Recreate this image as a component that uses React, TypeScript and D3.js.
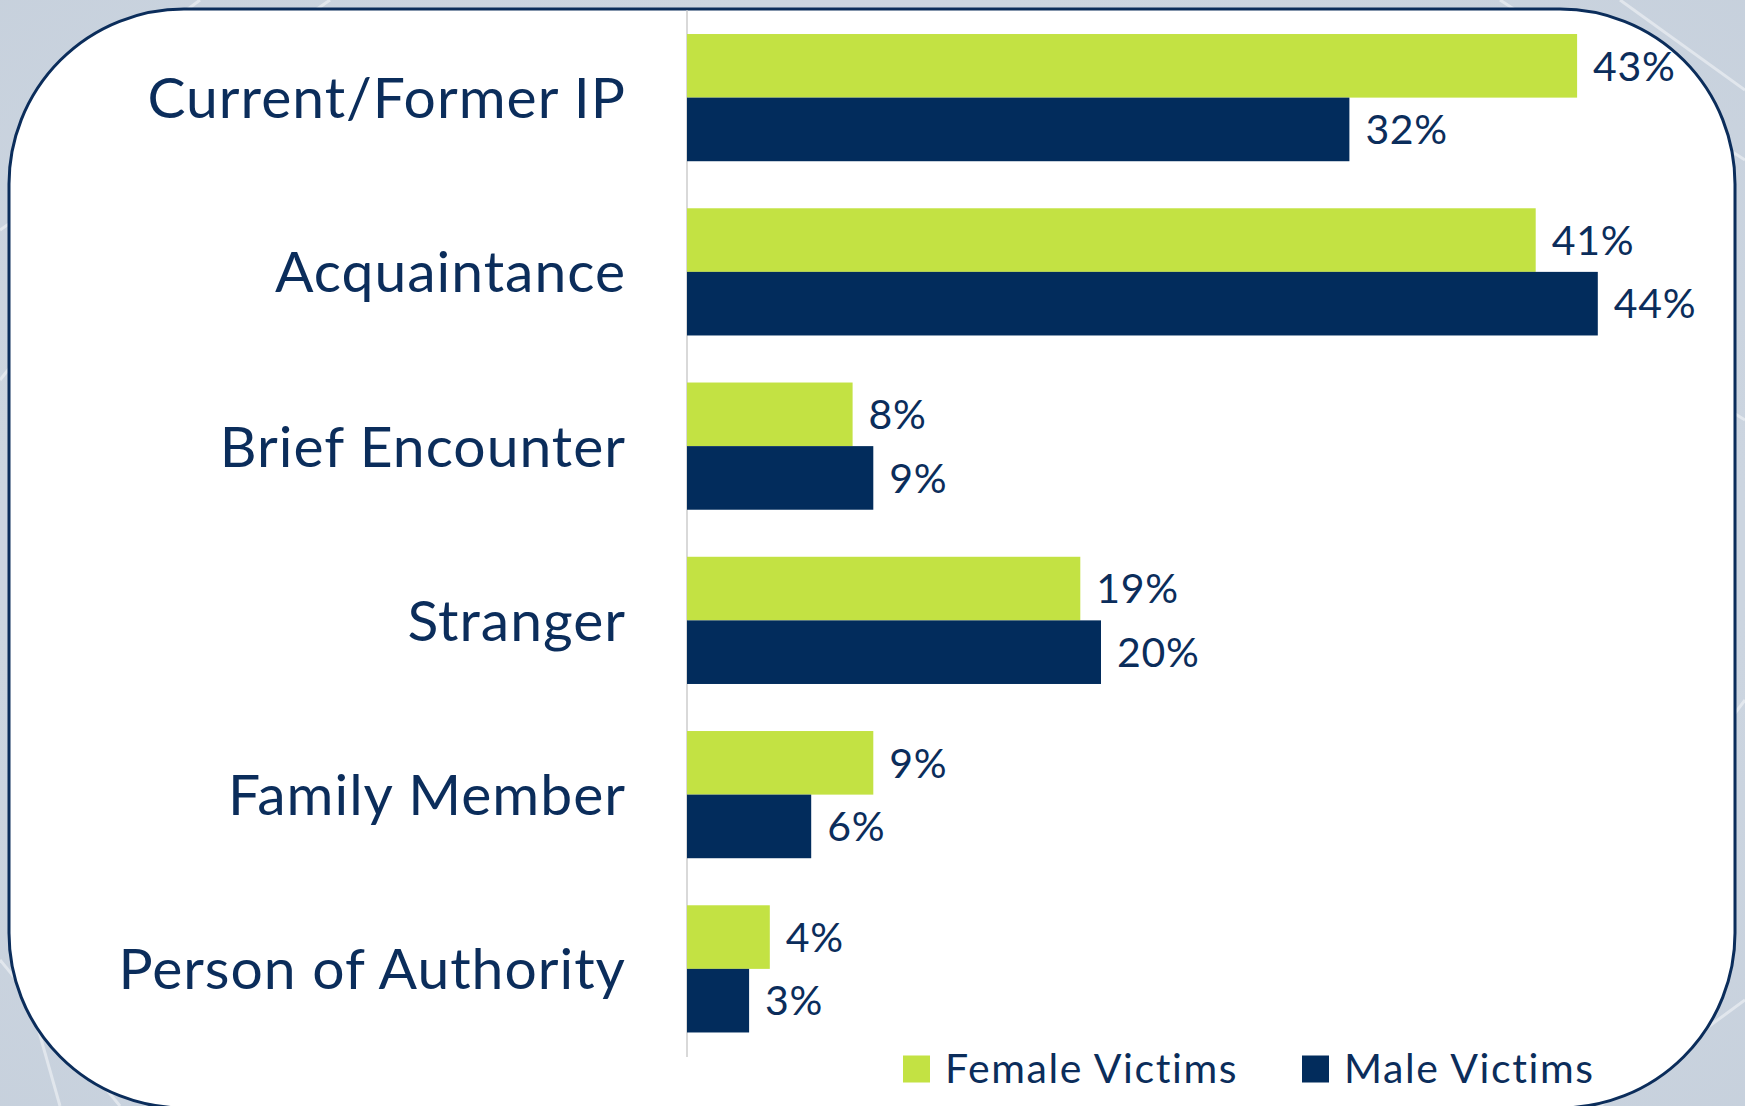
import React from "react";
import * as d3 from "d3";

const categories = [
  "Current/Former IP",
  "Acquaintance",
  "Brief Encounter",
  "Stranger",
  "Family Member",
  "Person of Authority",
];
const femaleValues = [43, 41, 8, 19, 9, 4];
const maleValues = [32, 44, 9, 20, 6, 3];
const seriesNames = ["Female Victims", "Male Victims"];

const W = 1745;
const H = 1106;
const GREEN = "#c3e243";
const NAVY = "#022c5c";
const TEXT = "#0b2d5b";
const FONT = "Lato, 'Open Sans', sans-serif";

const bgLines: [number, number, number, number][] = [
  [0, 230, 330, 0],
  [0, 380, 160, 180],
  [200, 0, 120, 60],
  [1500, 0, 1745, 160],
  [1620, 0, 1745, 90],
  [1745, 420, 1680, 380],
  [0, 960, 120, 1106],
  [60, 1106, 30, 1000],
  [1600, 1106, 1745, 1000],
  [1745, 700, 1700, 760],
];

export default function App() {
  const x = d3.scaleLinear().domain([0, 50]).range([687, 1722]);
  const y = d3
    .scaleBand<string>()
    .domain(categories)
    .range([10.5, 1056])
    .paddingInner(0.27)
    .paddingOuter(0.135);
  const sub = d3
    .scaleBand<string>()
    .domain(seriesNames)
    .range([0, y.bandwidth()]);
  const series = [
    { name: seriesNames[0], values: femaleValues, color: GREEN },
    { name: seriesNames[1], values: maleValues, color: NAVY },
  ];
  const legendX = [903, 1302];

  return (
    <svg
      width={W}
      height={H}
      style={{ position: "absolute", left: 0, top: 0 }}
      fontFamily={FONT}
    >
      <defs>
        <radialGradient id="bg" cx="50%" cy="50%" r="75%">
          <stop offset="0%" stopColor="#d8dfe8" />
          <stop offset="100%" stopColor="#c6d0dc" />
        </radialGradient>
      </defs>
      <rect x={0} y={0} width={W} height={H} fill="url(#bg)" />
      {bgLines.map((l, i) => (
        <line
          key={i}
          x1={l[0]}
          y1={l[1]}
          x2={l[2]}
          y2={l[3]}
          stroke="#ffffff"
          strokeOpacity={0.45}
          strokeWidth={3}
        />
      ))}
      <rect
        x={9}
        y={9}
        width={1726}
        height={1099}
        rx={175}
        ry={175}
        fill="#ffffff"
        stroke={TEXT}
        strokeWidth={3}
      />
      <line
        x1={x(0)}
        x2={x(0)}
        y1={10.5}
        y2={1057}
        stroke="#d9d9d9"
        strokeWidth={2}
      />
      {categories.map((c, ci) => (
        <g key={c}>
          <text
            x={626}
            y={(y(c) ?? 0) + y.bandwidth() / 2}
            dy="0.36em"
            textAnchor="end"
            fontSize={57}
            letterSpacing={1}
            fill={TEXT}
          >
            {c}
          </text>
          {series.map((s) => {
            const v = s.values[ci];
            const top = (y(c) ?? 0) + (sub(s.name) ?? 0);
            return (
              <g key={s.name}>
                <rect
                  x={x(0)}
                  y={top}
                  width={x(v) - x(0)}
                  height={sub.bandwidth()}
                  fill={s.color}
                />
                <text
                  x={x(v) + 16}
                  y={top + sub.bandwidth() / 2}
                  dy="0.36em"
                  fontSize={41}
                  letterSpacing={0.7}
                  fill={TEXT}
                >
                  {v}%
                </text>
              </g>
            );
          })}
        </g>
      ))}
      {series.map((s, i) => (
        <g key={s.name}>
          <rect
            x={legendX[i]}
            y={1055.5}
            width={27}
            height={27}
            fill={s.color}
          />
          <text
            x={legendX[i] + 42}
            y={1082.5}
            fontSize={41}
            letterSpacing={1.6}
            fill={TEXT}
          >
            {s.name}
          </text>
        </g>
      ))}
    </svg>
  );
}
